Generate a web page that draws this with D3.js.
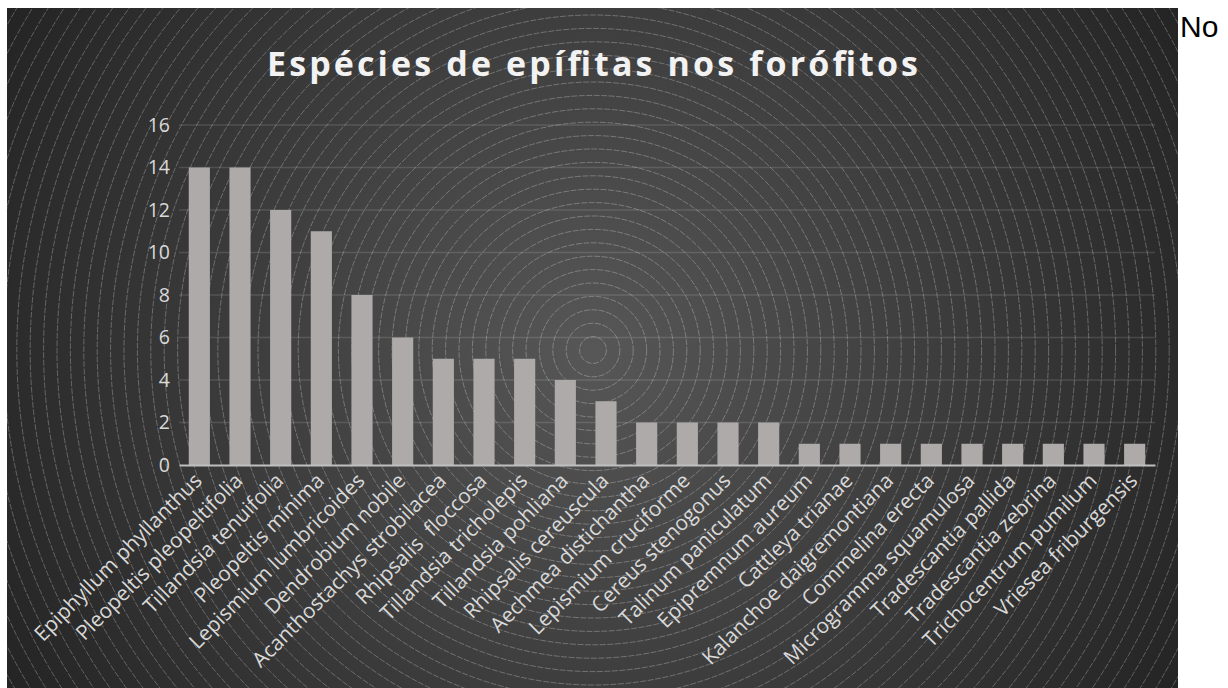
<!DOCTYPE html>
<html>
<head>
<meta charset="utf-8">
<title>Espécies de epífitas nos forófitos</title>
<script src="https://d3js.org/d3.v7.min.js"></script>
<style>
body, html {
  margin: 0;
  padding: 0;
  background: #ffffff;
}
svg {
  display: block;
}
</style>
</head>
<body>
<svg id="chart" width="1228" height="688"></svg>

<script>
const chartTitle = "Espécies de epífitas nos forófitos";

const species = [
  "Epiphyllum phyllanthus", "Pleopeltis pleopeltifolia", "Tillandsia tenuifolia",
  "Pleopeltis mínima", "Lepismium lumbricoides", "Dendrobium nobile",
  "Acanthostachys strobilacea", "Rhipsalis  floccosa", "Tillandsia tricholepis",
  "Tillandsia pohliana", "Rhipsalis cereuscula", "Aechmea distichantha",
  "Lepismium cruciforme", "Cereus stenogonus", "Talinum paniculatum",
  "Epipremnum aureum", "Cattleya trianae", "Kalanchoe daigremontiana",
  "Commelina erecta", "Microgramma squamulosa", "Tradescantia pallida",
  "Tradescantia zebrina", "Trichocentrum pumilum", "Vriesea friburgensis"
];

const counts = [14, 14, 12, 11, 8, 6, 5, 5, 5, 4, 3, 2, 2, 2, 2, 1, 1, 1, 1, 1, 1, 1, 1, 1];

const yTicks = [0, 2, 4, 6, 8, 10, 12, 14, 16];

function main() {
  const svg = d3.select("#chart");

  // chart area box
  const box = { x: 7, y: 8, w: 1171, h: 690 };
  const plot = { left: 179, right: 1155, top: 125, bottom: 465 };

  const defs = svg.append("defs");
  const grad = defs.append("radialGradient")
    .attr("id", "bg")
    .attr("gradientUnits", "userSpaceOnUse")
    .attr("cx", 593).attr("cy", 350).attr("r", 700);
  grad.append("stop").attr("offset", "0").attr("stop-color", "#575757");
  grad.append("stop").attr("offset", "1").attr("stop-color", "#222222");

  defs.append("clipPath").attr("id", "box-clip")
    .append("rect")
    .attr("x", box.x).attr("y", box.y)
    .attr("width", box.w).attr("height", box.h);

  svg.append("rect")
    .attr("x", box.x).attr("y", box.y)
    .attr("width", box.w).attr("height", box.h)
    .attr("fill", "url(#bg)");

  // concentric rings of the background fill
  svg.append("g")
    .attr("clip-path", "url(#box-clip)")
    .selectAll("circle")
    .data(d3.range(1, 56))
    .join("circle")
      .attr("cx", 593).attr("cy", 350)
      .attr("r", d => d * 13.4)
      .attr("fill", "none")
      .attr("stroke", "rgba(255,255,255,0.38)")
      .attr("stroke-width", 0.7)
      .attr("stroke-dasharray", "6 1.5");

  const x = d3.scaleBand()
    .domain(species)
    .range([plot.left, plot.right])
    .paddingInner(0.48)
    .paddingOuter(0.24);

  const y = d3.scaleLinear()
    .domain([0, 16])
    .range([plot.bottom, plot.top]);

  // gridlines
  svg.append("g")
    .selectAll("line")
    .data(yTicks.filter(d => d > 0))
    .join("line")
      .attr("x1", plot.left).attr("x2", plot.right)
      .attr("y1", d => y(d)).attr("y2", d => y(d))
      .attr("stroke", "rgba(255,255,255,0.13)")
      .attr("stroke-width", 1.5);

  // y axis labels
  const yAxis = d3.axisLeft(y).tickValues(yTicks).tickSize(0).tickPadding(9);
  const gy = svg.append("g")
    .attr("transform", "translate(" + plot.left + ",0)")
    .call(yAxis);
  gy.select(".domain").remove();
  gy.selectAll("text")
    .attr("fill", "#d9d9d9")
    .style("font-family", "'Open Sans', sans-serif")
    .style("font-size", "19.5px");

  // bars
  svg.append("g")
    .selectAll("rect")
    .data(species)
    .join("rect")
      .attr("x", d => x(d))
      .attr("y", (d, i) => y(counts[i]))
      .attr("width", x.bandwidth())
      .attr("height", (d, i) => y(0) - y(counts[i]))
      .attr("fill", "#aeaaaa");

  // x axis
  const xAxis = d3.axisBottom(x).tickSize(0).tickPadding(0);
  const gx = svg.append("g")
    .attr("transform", "translate(0," + plot.bottom + ")")
    .call(xAxis);
  gx.select(".domain")
    .attr("stroke", "#bfbfbf")
    .attr("stroke-width", 2);
  gx.selectAll("text")
    .attr("fill", "#d9d9d9")
    .attr("text-anchor", "end")
    .attr("dy", 0)
    .attr("y", 0)
    .attr("transform", "translate(4,17) rotate(-45)")
    .style("font-family", "'Open Sans', sans-serif")
    .style("font-size", "20.8px")
    .style("white-space", "pre");

  // title
  svg.append("text")
    .attr("x", 592.5)
    .attr("y", 76)
    .attr("text-anchor", "middle")
    .attr("fill", "#f2f2f2")
    .attr("textLength", 651)
    .attr("lengthAdjust", "spacing")
    .style("font-family", "'Open Sans', sans-serif")
    .style("font-weight", "bold")
    .style("font-size", "34px")
    .text(chartTitle);

  // stray word beside the chart
  svg.append("text")
    .attr("x", 1180)
    .attr("y", 37)
    .attr("fill", "#000")
    .style("font-family", "'Liberation Sans', Arial, sans-serif")
    .style("font-size", "30px")
    .text("No");
}

main();
</script>
</body>
</html>
